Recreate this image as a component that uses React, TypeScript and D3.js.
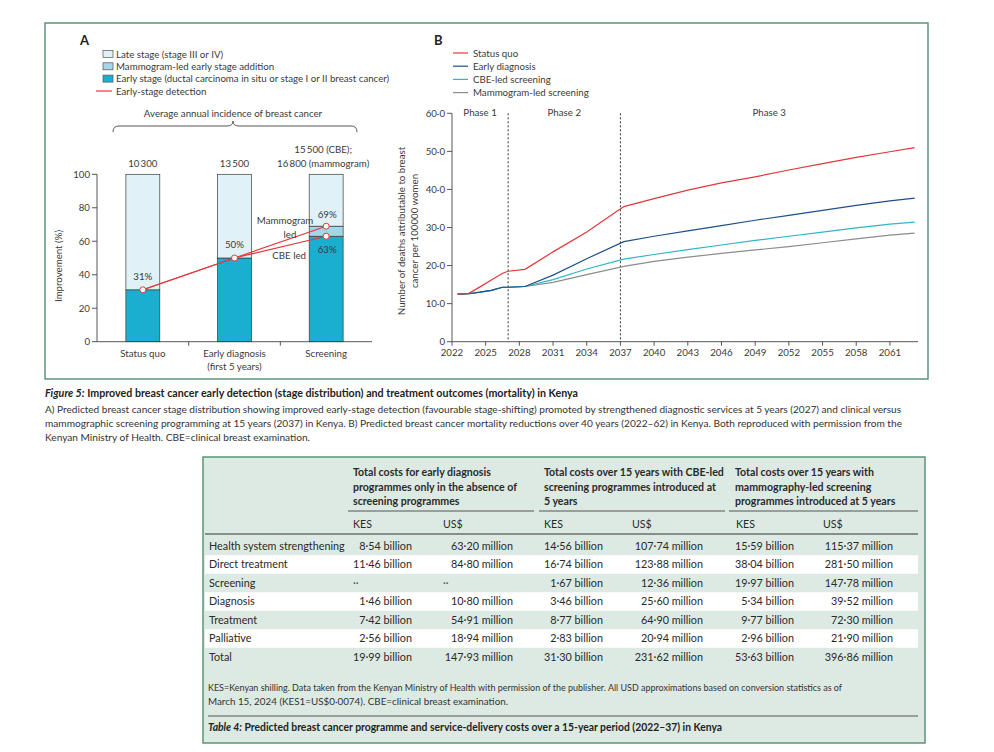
import React from "react";
import * as d3 from "d3";

// ---------- Panel A data ----------
const stageCategories = ["Status quo", "Early diagnosis", "Screening"];
const categorySubLabels = ["", "(first 5 years)", ""];
const earlyStage = [31, 50, 63];
const mammoAddition = [0, 0, 6];
const lateStage = [69, 50, 31];
const incidenceLabels = [["10\u2009300"], ["13\u2009500"], ["15\u2009500 (CBE);", "16\u2009800 (mammogram)"]];
const detectionCBE = [31, 50, 63];
const detectionMammo = [31, 50, 69];
const yTicksA = [0, 20, 40, 60, 80, 100];

// ---------- Panel B data ----------
const years = [2022.5, 2023.5, 2024.5, 2025.5, 2026.5, 2027, 2028.5, 2031, 2034, 2037.3, 2040, 2043, 2046, 2049, 2052, 2055, 2058, 2061, 2063.2];
const statusQuo = [12.5, 12.7, 14.4, 16.2, 18.0, 18.5, 19.0, 23.6, 28.8, 35.5, 37.6, 39.8, 41.7, 43.3, 45.1, 46.8, 48.4, 49.9, 51.0];
const earlyDiagnosis = [12.5, 12.6, 13.0, 13.5, 14.3, 14.3, 14.5, 17.5, 21.8, 26.3, 27.7, 29.1, 30.5, 31.9, 33.2, 34.5, 35.8, 37.0, 37.7];
const cbeScreening = [12.5, 12.6, 13.0, 13.5, 14.3, 14.3, 14.5, 16.3, 19.1, 21.7, 22.9, 24.2, 25.4, 26.6, 27.7, 28.8, 29.9, 30.9, 31.4];
const mammoScreening = [12.5, 12.6, 13.0, 13.5, 14.3, 14.3, 14.5, 15.6, 17.6, 19.8, 21.1, 22.2, 23.2, 24.1, 25.0, 26.0, 27.0, 28.0, 28.5];
const seriesNames = ["Status quo", "Early diagnosis", "CBE-led screening", "Mammogram-led screening"];
const seriesColors = ["#e2383c", "#1f4f8a", "#2db6c8", "#8c8c8c"];
const yTicksB = [0, 10, 20, 30, 40, 50, 60];
const xTicksB = [2022, 2025, 2028, 2031, 2034, 2037, 2040, 2043, 2046, 2049, 2052, 2055, 2058, 2061];
const phaseNames = ["Phase 1", "Phase 2", "Phase 3"];
const phaseBounds = [2022, 2027, 2037, 2063.5];

// ---------- Table data ----------
const rowLabels = ["Health system strengthening", "Direct treatment", "Screening", "Diagnosis", "Treatment", "Palliative", "Total"];
const edKES = ["8\u00b754 billion", "11\u00b746 billion", "\u00b7\u00b7", "1\u00b746 billion", "7\u00b742 billion", "2\u00b756 billion", "19\u00b799 billion"];
const edUSD = ["63\u00b720 million", "84\u00b780 million", "\u00b7\u00b7", "10\u00b780 million", "54\u00b791 million", "18\u00b794 million", "147\u00b793 million"];
const cbeKES = ["14\u00b756 billion", "16\u00b774 billion", "1\u00b767 billion", "3\u00b746 billion", "8\u00b777 billion", "2\u00b783 billion", "31\u00b730 billion"];
const cbeUSD = ["107\u00b774 million", "123\u00b788 million", "12\u00b736 million", "25\u00b760 million", "64\u00b790 million", "20\u00b794 million", "231\u00b762 million"];
const mamKES = ["15\u00b759 billion", "38\u00b704 billion", "19\u00b797 billion", "5\u00b734 billion", "9\u00b777 billion", "2\u00b796 billion", "53\u00b763 billion"];
const mamUSD = ["115\u00b737 million", "281\u00b750 million", "147\u00b778 million", "39\u00b752 million", "72\u00b730 million", "21\u00b790 million", "396\u00b786 million"];
const groupHeaders = [
  ["Total costs for early diagnosis", "programmes only in the absence of", "screening programmes"],
  ["Total costs over 15 years with CBE-led", "screening programmes introduced at", "5 years"],
  ["Total costs over 15 years with", "mammography-led screening", "programmes introduced at 5 years"],
];
const subHeaders = ["KES", "US$", "KES", "US$", "KES", "US$"];

const FONT = "Lato, 'Open Sans', sans-serif";
const TXT = "#3a3a3a";
const GREEN = "#4f8f70";
const FS = 9.7;

export default function App() {
  // ----- Panel A scales -----
  const xA = d3.scaleBand<string>().domain(stageCategories).range([97, 372]).paddingInner(0.63).paddingOuter(0.315);
  const yA = d3.scaleLinear().domain([0, 100]).range([341.7, 174.3]);
  const cxA = (i: number) => (xA(stageCategories[i]) as number) + xA.bandwidth() / 2;
  const stackRows = stageCategories.map((c, i) => ({ cat: c, early: earlyStage[i], mammo: mammoAddition[i], late: lateStage[i] }));
  const stacked = d3.stack<any>().keys(["early", "mammo", "late"])(stackRows);
  const stackColors: Record<string, string> = { early: "#1aafd0", mammo: "#a3d6e8", late: "#e0f1f8" };
  const lineA = d3.line<number>().x((_, i) => cxA(i)).y((d) => yA(d));

  // ----- Panel B scales -----
  const xB = d3.scaleLinear().domain([2022, 2063.5]).range([452, 918]);
  const yB = d3.scaleLinear().domain([0, 60]).range([341.7, 113.3]);
  const seriesData = [statusQuo, earlyDiagnosis, cbeScreening, mammoScreening];
  const lineB = d3.line<number>().x((_, i) => xB(years[i])).y((d) => yB(d));
  const fmtB = (d: number) => (d === 0 ? "0" : d.toFixed(1).replace(".", "\u00b7"));

  // ----- Table scales -----
  const yRow = d3.scaleBand<string>().domain(rowLabels).range([536.75, 666.25]);
  const rowC = (r: string) => (yRow(r) as number) + yRow.bandwidth() / 2;
  const valueCols = [edKES, edUSD, cbeKES, cbeUSD, mamKES, mamUSD];
  const colRight = [412, 513, 603, 703, 794, 893];
  const colLeft = [353, 443, 544, 632, 736, 823];
  const groupX = [353, 544, 735];
  const groupLine = [[348, 534], [539, 725], [729, 918]];

  const legendA = [
    { label: "Late stage (stage III or IV)", key: "late" },
    { label: "Mammogram-led early stage addition", key: "mammo" },
    { label: "Early stage (ductal carcinoma in situ or stage I or II breast cancer)", key: "early" },
  ];

  return (
    <svg width={994} height={752} style={{ position: "absolute", left: 0, top: 0, background: "#fff" }} fontFamily={FONT}>
      {/* Figure box */}
      <rect x={45} y={23} width={883} height={356} fill="#fff" stroke={GREEN} strokeWidth={1.4} />

      {/* ================= Panel A ================= */}
      <text x={80} y={45} fontSize={13} fontWeight={700} fill="#222">A</text>
      {legendA.map((l, i) => (
        <g key={l.key}>
          <rect x={103} y={50.5 + i * 12.3} width={10} height={7} fill={stackColors[l.key]} stroke="#555" strokeWidth={0.7} />
          <text x={116} y={57.5 + i * 12.3} fontSize={FS} fill={TXT}>{l.label}</text>
        </g>
      ))}
      <line x1={96} x2={112} y1={91} y2={91} stroke="#e2383c" strokeWidth={1.2} />
      <text x={116} y={94.5} fontSize={FS} fill={TXT}>Early-stage detection</text>

      <text x={233} y={117} fontSize={FS} fill={TXT} textAnchor="middle">Average annual incidence of breast cancer</text>
      <path d="M113,132 Q113,126 119,126 L227,126 Q233,126 233,121 Q233,126 239,126 L351,126 Q357,126 357,132" fill="none" stroke="#444" strokeWidth={0.9} />

      {/* bars */}
      {stacked.map((layer) =>
        layer.map((d, i) =>
          d[1] - d[0] > 0 ? (
            <rect key={layer.key + i} x={xA(stageCategories[i])} width={xA.bandwidth()} y={yA(d[1])} height={yA(d[0]) - yA(d[1])}
              fill={stackColors[layer.key]} stroke="#3a3a3a" strokeWidth={0.7} />
          ) : null
        )
      )}
      {/* axes A */}
      <line x1={97} x2={97} y1={yA(100)} y2={yA(0)} stroke="#444" strokeWidth={0.9} />
      <line x1={97} x2={372} y1={yA(0)} y2={yA(0)} stroke="#444" strokeWidth={0.9} />
      {yTicksA.map((t) => (
        <g key={t}>
          <line x1={92} x2={97} y1={yA(t)} y2={yA(t)} stroke="#444" strokeWidth={0.9} />
          <text x={90} y={yA(t)} dy="0.35em" fontSize={FS} fill={TXT} textAnchor="end">{t}</text>
        </g>
      ))}
      {stageCategories.slice(1).map((c) => (
        <line key={c} x1={xA(c)! - (xA.step() - xA.bandwidth()) / 2} x2={xA(c)! - (xA.step() - xA.bandwidth()) / 2} y1={yA(0)} y2={yA(0) + 4} stroke="#444" strokeWidth={0.9} />
      ))}
      {stageCategories.map((c, i) => (
        <g key={c}>
          <text x={cxA(i)} y={357} fontSize={FS} fill={TXT} textAnchor="middle">{c}</text>
          {categorySubLabels[i] && <text x={cxA(i)} y={370} fontSize={FS} fill={TXT} textAnchor="middle">{categorySubLabels[i]}</text>}
          {incidenceLabels[i].map((s, j, arr) => (
            <text key={j} x={cxA(i) - (arr.length > 1 ? 3 : 0)} y={166.5 - (arr.length - 1 - j) * 14} fontSize={FS} fill={TXT} textAnchor="middle">{s}</text>
          ))}
        </g>
      ))}
      <text transform={`translate(59,${(yA(0) + yA(100)) / 2 + 8}) rotate(-90)`} fontSize={FS} fill={TXT} textAnchor="middle" dy="0.35em">Improvement (%)</text>

      {/* detection lines */}
      <path d={lineA(detectionMammo) as string} fill="none" stroke="#e2383c" strokeWidth={1.2} />
      <path d={lineA(detectionCBE) as string} fill="none" stroke="#e2383c" strokeWidth={1.2} />
      {[...detectionCBE.map((v, i) => [i, v]), [2, detectionMammo[2]]].map(([i, v], k) => (
        <circle key={k} cx={cxA(i)} cy={yA(v)} r={3} fill="#fff" stroke="#e2383c" strokeWidth={1} />
      ))}
      <text x={cxA(0)} y={yA(detectionCBE[0]) - 10} fontSize={FS} fill={TXT} textAnchor="middle">{detectionCBE[0]}%</text>
      <text x={cxA(1)} y={yA(detectionCBE[1]) - 10} fontSize={FS} fill={TXT} textAnchor="middle">{detectionCBE[1]}%</text>
      <text x={cxA(2) + 1} y={yA(detectionMammo[2]) - 8} fontSize={FS} fill={TXT} textAnchor="middle">{detectionMammo[2]}%</text>
      <text x={cxA(2) + 1} y={yA(detectionCBE[2]) + 17} fontSize={FS} fill={TXT} textAnchor="middle">{detectionCBE[2]}%</text>
      <text x={285} y={224} fontSize={FS} fill={TXT} textAnchor="middle">Mammogram</text>
      <text x={290} y={237.5} fontSize={FS} fill={TXT} textAnchor="middle">led</text>
      <text x={306} y={258.5} fontSize={FS} fill={TXT} textAnchor="end">CBE led</text>

      {/* ================= Panel B ================= */}
      <text x={434} y={45} fontSize={13} fontWeight={700} fill="#222">B</text>
      {seriesNames.map((n, i) => (
        <g key={n}>
          <line x1={453} x2={468} y1={53 + i * 13.2} y2={53 + i * 13.2} stroke={seriesColors[i]} strokeWidth={1.2} />
          <text x={473} y={56.5 + i * 13.2} fontSize={FS} fill={TXT}>{n}</text>
        </g>
      ))}
      {/* axes B */}
      <line x1={452} x2={452} y1={yB(60)} y2={yB(0)} stroke="#444" strokeWidth={0.9} />
      <line x1={452} x2={918} y1={yB(0)} y2={yB(0)} stroke="#444" strokeWidth={0.9} />
      {yTicksB.map((t) => (
        <g key={t}>
          <line x1={447} x2={452} y1={yB(t)} y2={yB(t)} stroke="#444" strokeWidth={0.9} />
          <text x={445} y={yB(t)} dy="0.35em" fontSize={FS} fill={TXT} textAnchor="end">{fmtB(t)}</text>
        </g>
      ))}
      {xTicksB.map((t) => (
        <g key={t}>
          <line x1={xB(t)} x2={xB(t)} y1={yB(0)} y2={yB(0) + 4} stroke="#444" strokeWidth={0.9} />
          <text x={xB(t)} y={356} fontSize={FS} fill={TXT} textAnchor="middle">{t}</text>
        </g>
      ))}
      {[phaseBounds[1], phaseBounds[2]].map((b) => (
        <line key={b} x1={xB(b)} x2={xB(b)} y1={yB(60)} y2={yB(0)} stroke="#333" strokeWidth={1} strokeDasharray="2,2" />
      ))}
      {phaseNames.map((p, i) => (
        <text key={p} x={xB((phaseBounds[i] + phaseBounds[i + 1]) / 2)} y={115.5} fontSize={FS} fill={TXT} textAnchor="middle">{p}</text>
      ))}
      {seriesData.map((s, i) => ({ s, i })).reverse().map(({ s, i }) => (
        <path key={i} d={lineB(s) as string} fill="none" stroke={seriesColors[i]} strokeWidth={1.2} />
      ))}
      <text transform={`translate(402,231) rotate(-90)`} fontSize={FS} fill={TXT} textAnchor="middle" dy="0.35em">Number of deaths attributable to breast</text>
      <text transform={`translate(415,231) rotate(-90)`} fontSize={FS} fill={TXT} textAnchor="middle" dy="0.35em">cancer per 100000 women</text>

      {/* ================= Caption ================= */}
      <text x={45} y={397} fontSize={10.5} fontWeight={700} fill="#222" textLength={533} lengthAdjust="spacingAndGlyphs">
        <tspan fontStyle="italic">Figure 5:</tspan> Improved breast cancer early detection (stage distribution) and treatment outcomes (mortality) in Kenya
      </text>
      <text x={45} y={413} fontSize={10.3} fill="#333" textLength={856} lengthAdjust="spacingAndGlyphs">
        A) Predicted breast cancer stage distribution showing improved early-stage detection (favourable stage-shifting) promoted by strengthened diagnostic services at 5 years (2027) and clinical versus
      </text>
      <text x={45} y={427} fontSize={10.3} fill="#333" textLength={857} lengthAdjust="spacingAndGlyphs">
        mammographic screening programming at 15 years (2037) in Kenya. B) Predicted breast cancer mortality reductions over 40 years (2022–62) in Kenya. Both reproduced with permission from the
      </text>
      <text x={45} y={441} fontSize={10.3} fill="#333" textLength={265} lengthAdjust="spacingAndGlyphs">
        Kenyan Ministry of Health. CBE=clinical breast examination.
      </text>

      {/* ================= Table ================= */}
      <rect x={203} y={457} width={722} height={286} fill="#dde9e3" stroke={GREEN} strokeWidth={1.4} />
      {groupHeaders.map((g, gi) => (
        <g key={gi}>
          {g.map((line, li) => (
            <text key={li} x={groupX[gi]} y={476 + li * 14.5} fontSize={10.6} fontWeight={700} fill="#2a2a2a">{line}</text>
          ))}
          <line x1={groupLine[gi][0]} x2={groupLine[gi][1]} y1={511} y2={511} stroke="#555" strokeWidth={1} />
        </g>
      ))}
      {subHeaders.map((s, i) => (
        <text key={i} x={colLeft[i]} y={528} fontSize={10.6} fill="#2a2a2a">{s}</text>
      ))}
      <line x1={205} x2={918} y1={534} y2={534} stroke="#333" strokeWidth={1.2} />
      {rowLabels.map((r, ri) => (
        <g key={r}>
          {ri % 2 === 1 && <rect x={205} y={yRow(r)} width={713} height={yRow.bandwidth()} fill="#fff" />}
          <text x={209} y={rowC(r)} dy="0.35em" fontSize={10.8} fill="#2a2a2a">{r}</text>
          {valueCols.map((col, ci) =>
            col[ri] === "\u00b7\u00b7" ? (
              <text key={ci} x={colLeft[ci]} y={rowC(r)} dy="0.35em" fontSize={10.8} fill="#555">{col[ri]}</text>
            ) : (
              <text key={ci} x={colRight[ci]} y={rowC(r)} dy="0.35em" fontSize={10.8} fill="#2a2a2a" textAnchor="end">{col[ri]}</text>
            )
          )}
        </g>
      ))}
      <text x={208} y={691} fontSize={9.8} fill="#333" textLength={634} lengthAdjust="spacingAndGlyphs">
        KES=Kenyan shilling. Data taken from the Kenyan Ministry of Health with permission of the publisher. All USD approximations based on conversion statistics as of
      </text>
      <text x={208} y={705} fontSize={9.8} fill="#333" textLength={300} lengthAdjust="spacing">
        March 15, 2024 (KES1=US$0·0074). CBE=clinical breast examination.
      </text>
      <line x1={208} x2={918} y1={716} y2={716} stroke="#555" strokeWidth={1} />
      <text x={208} y={731} fontSize={10.5} fontWeight={700} fill="#222" textLength={514} lengthAdjust="spacingAndGlyphs">
        <tspan fontStyle="italic">Table 4:</tspan> Predicted breast cancer programme and service-delivery costs over a 15-year period (2022–37) in Kenya
      </text>
    </svg>
  );
}
